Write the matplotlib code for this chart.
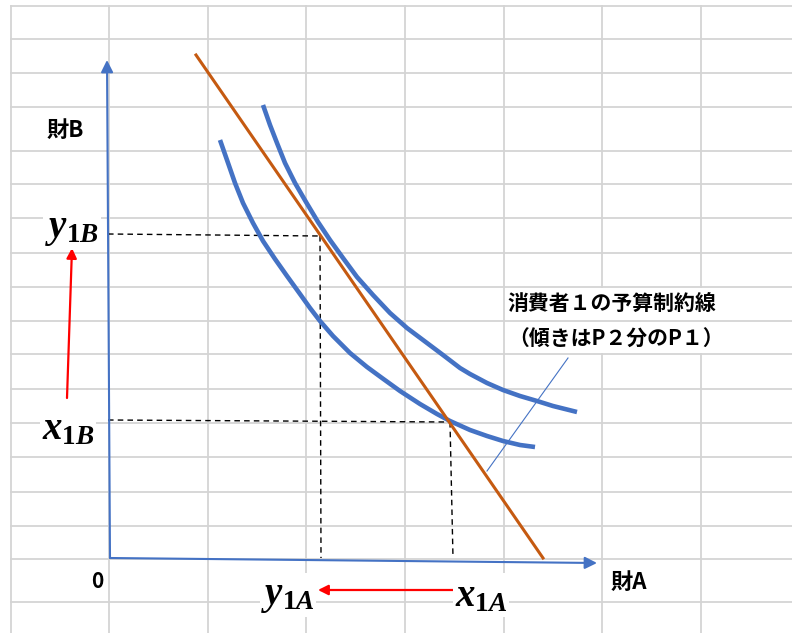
import matplotlib.pyplot as plt

plt.rcParams['font.family'] = ['Noto Sans CJK JP', 'DejaVu Sans']
plt.rcParams['mathtext.fontset'] = 'custom'
plt.rcParams['mathtext.it'] = 'Liberation Serif:italic:bold'
plt.rcParams['mathtext.rm'] = 'Liberation Serif:bold'
plt.rcParams['mathtext.bf'] = 'Liberation Serif:bold'

# spreadsheet grid behind the drawing
grid_x = [-9.9, -0.1, 9.8, 19.6, 29.5, 39.4, 49.2, 59.1]
grid_y = [55.2, 51.9, 48.5, 45.1, 40.7, 37.4, 34.0, 30.5, 27.1, 23.7,
          20.4, 16.9, 13.5, 10.1, 6.6, 3.2, -0.1, -4.4]
merged_cols = [49.2, 59.1]
merged_rows = (20.4, 27.1)

# indifference curves and budget line
upper_x = [15.3, 16.0, 16.7, 17.5, 18.5, 19.6, 20.8, 22.0, 23.3, 24.7, 26.3, 28.0,
           29.7, 31.7, 33.3, 35.0, 36.0, 37.7, 39.3, 41.0, 42.7, 44.3, 46.7]
upper_y = [45.3, 43.3, 41.5, 39.5, 37.5, 35.6, 33.6, 31.8, 30.0, 28.1, 26.3, 24.5,
           23.0, 21.5, 20.3, 19.0, 18.4, 17.5, 16.8, 16.2, 15.7, 15.2, 14.6]
lower_x = [11.0, 11.7, 12.5, 13.3, 14.3, 15.3, 16.5, 17.7, 19.0, 20.0, 21.0, 22.3,
           24.0, 25.7, 27.2, 29.0, 31.0, 32.7, 34.0, 36.0, 37.7, 39.3, 41.0, 42.5]
lower_y = [41.8, 39.8, 37.5, 35.5, 33.5, 31.7, 29.9, 28.2, 26.4, 25.0, 23.7, 22.2,
           20.5, 19.1, 18.0, 16.7, 15.4, 14.4, 13.7, 12.8, 12.2, 11.7, 11.3, 11.1]
budget_x = [8.6, 43.3]
budget_y = [50.3, 0.0]

# points y1 and x1
y1 = (21.0, 32.2)
x1 = (34.0, 13.6)

blue = '#4472C4'
orange = '#C55A11'

fig = plt.figure(figsize=(7.92, 6.33), dpi=100)
ax = fig.add_axes([0, 0, 1, 1])
ax.set_xlim(-11, 68.2)
ax.set_ylim(-7.5, 55.8)
ax.axis('off')

gc = '#D4D4D4'
for gy in grid_y:
    ax.plot([grid_x[0], 68.2], [gy, gy], color=gc, lw=1.3, zorder=0)
for gx in grid_x:
    if gx in merged_cols:
        ax.plot([gx, gx], [-7.5, merged_rows[0]], color=gc, lw=1.3, zorder=0)
        ax.plot([gx, gx], [merged_rows[1], grid_y[0]], color=gc, lw=1.3, zorder=0)
    else:
        ax.plot([gx, gx], [-7.5, grid_y[0]], color=gc, lw=1.3, zorder=0)

# axes with arrows
ax.annotate('', xy=(-0.3, 49.8), xytext=(0, 0),
            arrowprops=dict(arrowstyle='-|>', color=blue, lw=1.5,
                            mutation_scale=18, shrinkA=0, shrinkB=0))
ax.annotate('', xy=(48.7, -0.5), xytext=(0, 0),
            arrowprops=dict(arrowstyle='-|>', color=blue, lw=1.5,
                            mutation_scale=18, shrinkA=0, shrinkB=0))

ax.plot(upper_x, upper_y, color=blue, lw=3.3, solid_capstyle='butt',
        solid_joinstyle='round', zorder=3)
ax.plot(lower_x, lower_y, color=blue, lw=3.3, solid_capstyle='butt',
        solid_joinstyle='round', zorder=3)
ax.plot(budget_x, budget_y, color=orange, lw=2.2, zorder=4)

# dashed guides
dash = dict(color='black', lw=1.0, ls=(0, (4, 3)), zorder=2)
ax.plot([-0.2, y1[0]], [32.4, y1[1]], **dash)
ax.plot([y1[0], y1[0] + 0.1], [y1[1], 0], **dash)
ax.plot([-0.2, x1[0]], [13.8, x1[1]], **dash)
ax.plot([x1[0], x1[0] + 0.3], [x1[1], 0], **dash)

# red arrows
ax.annotate('', xy=(-3.8, 31.0), xytext=(-4.3, 16.0),
            arrowprops=dict(arrowstyle='-|>', color='red', lw=1.6,
                            mutation_scale=15, shrinkA=0, shrinkB=0))
ax.annotate('', xy=(20.8, -3.2), xytext=(34.3, -3.2),
            arrowprops=dict(arrowstyle='-|>', color='red', lw=1.6,
                            mutation_scale=15, shrinkA=0, shrinkB=0))

# callout line
ax.plot([37.7, 45.8], [8.7, 20.0], color=blue, lw=0.8, zorder=3)

box = dict(facecolor='white', edgecolor='none', pad=1)
ax.text(-3.8, 33.0, r'$y_{1B}$', fontsize=28, ha='center', va='center', bbox=box, zorder=5)
ax.text(-4.2, 13.0, r'$x_{1B}$', fontsize=28, ha='center', va='center', bbox=box, zorder=5)
ax.text(17.8, -3.7, r'$y_{1A}$', fontsize=28, ha='center', va='center', bbox=box, zorder=5)
ax.text(37.1, -3.7, r'$x_{1A}$', fontsize=28, ha='center', va='center', bbox=box, zorder=5)

ax.text(-4.5, 42.8, '財B', fontsize=16, ha='center', va='center', weight='bold')
ax.text(-1.3, -2.4, '0', fontsize=15, ha='center', va='center', weight='bold')
ax.text(51.9, -2.4, '財A', fontsize=16, ha='center', va='center', weight='bold')

ax.text(50.2, 25.5, '消費者１の予算制約線', fontsize=15, ha='center', va='center', weight='bold')
ax.text(50.6, 21.9, '（傾きはP２分のP１）', fontsize=15, ha='center', va='center', weight='bold')

fig.savefig('out.png', dpi=100)
